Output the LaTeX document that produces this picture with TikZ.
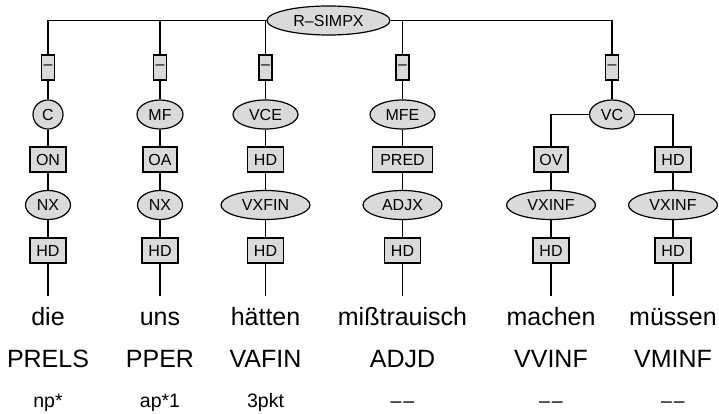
\documentclass[tikz,border=0pt]{standalone}
\usepackage{fontspec}
\setmainfont{Liberation Sans}
\usetikzlibrary{shapes.geometric}
\definecolor{nodefill}{RGB}{218,218,218}
\begin{document}
\begin{tikzpicture}[x=1pt,y=1pt,line width=1.2pt,
  lbl/.style={font=\fontsize{16}{18}\selectfont},
  cat/.style={lbl,ellipse,draw=black,fill=nodefill,inner sep=0pt,minimum height=29pt},
  fn/.style={lbl,rectangle,draw=black,fill=nodefill,inner sep=0pt,minimum height=25pt},
  word/.style={anchor=base,inner sep=0pt,font=\fontsize{25}{28}\selectfont},
  tag/.style={anchor=base,inner sep=0pt,font=\fontsize{25}{28}\selectfont},
  xtra/.style={anchor=base,inner sep=0pt,font=\fontsize{19.5}{22}\selectfont}]
\useasboundingbox (0,0) rectangle (719,-414);
% root
\node[cat,minimum width=123pt] (root) at (328.5,-20.5) {R–SIMPX};
% dash boxes
\node[fn,minimum width=13pt] (d1) at (48,-67.5) {–};
\node[fn,minimum width=13pt] (d2) at (160,-67.5) {–};
\node[fn,minimum width=13pt] (d3) at (265.5,-67.5) {–};
\node[fn,minimum width=13pt] (d4) at (402.5,-67.5) {–};
\node[fn,minimum width=13pt] (d5) at (612,-67.5) {–};
% first row of categories
\node[cat,minimum width=30pt] (c1) at (48,-114.5) {C};
\node[cat,minimum width=46pt] (c2) at (160,-114.5) {MF};
\node[cat,minimum width=65pt] (c3) at (265.5,-114.5) {VCE};
\node[cat,minimum width=65pt] (c4) at (402.5,-114.5) {MFE};
\node[cat,minimum width=45pt] (c5) at (612,-114.5) {VC};
% second row of functions
\node[fn,minimum width=36pt] (f1) at (48,-159.5) {ON};
\node[fn,minimum width=34pt] (f2) at (160,-159.5) {OA};
\node[fn,minimum width=36pt] (f3) at (265.5,-159.5) {HD};
\node[fn,minimum width=60pt] (f4) at (402.5,-159.5) {PRED};
\node[fn,minimum width=34pt] (f5) at (551,-159.5) {OV};
\node[fn,minimum width=36pt] (f6) at (673,-159.5) {HD};
% second row of categories
\node[cat,minimum width=45pt] (p1) at (48,-205) {NX};
\node[cat,minimum width=45pt] (p2) at (160,-205) {NX};
\node[cat,minimum width=89pt] (p3) at (265.5,-205) {VXFIN};
\node[cat,minimum width=79pt] (p4) at (402.5,-205) {ADJX};
\node[cat,minimum width=89pt] (p5) at (551,-205) {VXINF};
\node[cat,minimum width=89pt] (p6) at (673,-205) {VXINF};
% head boxes
\node[fn,minimum width=36pt] (h1) at (48,-250.5) {HD};
\node[fn,minimum width=36pt] (h2) at (160,-250.5) {HD};
\node[fn,minimum width=36pt] (h3) at (265.5,-250.5) {HD};
\node[fn,minimum width=36pt] (h4) at (402.5,-250.5) {HD};
\node[fn,minimum width=36pt] (h5) at (551,-250.5) {HD};
\node[fn,minimum width=36pt] (h6) at (673,-250.5) {HD};
% line ends
\coordinate (e1) at (48,-296);
\coordinate (e2) at (160,-296);
\coordinate (e3) at (265.5,-296);
\coordinate (e4) at (402.5,-296);
\coordinate (e5) at (551,-296);
\coordinate (e6) at (673,-296);
% words, tags, extra
\node[word] (w1) at (48,-325) {die};
\node[word] (w2) at (160,-325) {uns};
\node[word] (w3) at (265.5,-325) {hätten};
\node[word] (w4) at (402.5,-325) {mißtrauisch};
\node[word] (w5) at (551,-325) {machen};
\node[word] (w6) at (673,-325) {müssen};
\node[tag] (t1) at (48,-367) {PRELS};
\node[tag] (t2) at (160,-367) {PPER};
\node[tag] (t3) at (265.5,-367) {VAFIN};
\node[tag] (t4) at (402.5,-367) {ADJD};
\node[tag] (t5) at (551,-367) {VVINF};
\node[tag] (t6) at (673,-367) {VMINF};
\node[xtra] (x1) at (48,-407) {np*};
\node[xtra] (x2) at (160,-407) {ap*1};
\node[xtra] (x3) at (265.5,-407) {3pkt};
\node[xtra] (x4) at (402.5,-407) {–\kern2pt–};
\node[xtra] (x5) at (551,-407) {–\kern2pt–};
\node[xtra] (x6) at (673,-407) {–\kern2pt–};
% connectors
\draw (root.west) -| (d1.north);
\draw (root.west) -| (d2.north);
\draw (root.west) -| (d3.north);
\draw (root.east) -| (d4.north);
\draw (root.east) -| (d5.north);
\draw (c5.west) -| (f5.north);
\draw (c5.east) -| (f6.north);
\foreach \i in {1,...,5} { \draw (d\i) -- (c\i); }
\foreach \i in {1,...,4} { \draw (c\i) -- (f\i); }
\foreach \i in {1,...,6} { \draw (f\i) -- (p\i); \draw (p\i) -- (h\i); \draw (h\i) -- (e\i); }
\end{tikzpicture}
\end{document}
